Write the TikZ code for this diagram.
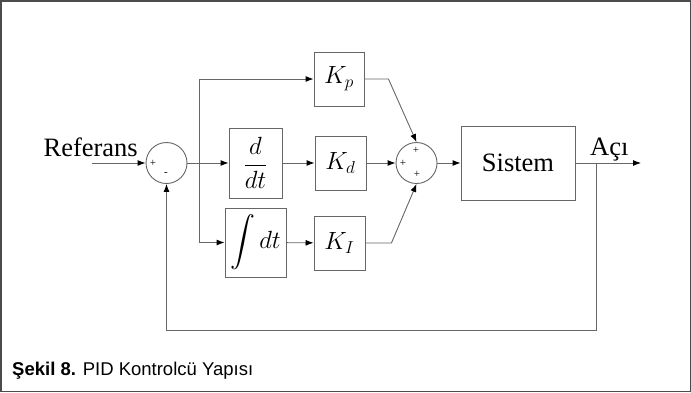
\documentclass[tikz,border=0pt]{standalone}
\usepackage{amsmath}
\usepackage{fontspec}
\setmainfont{Liberation Serif}
\newfontfamily\captionfont{Liberation Sans}
\usetikzlibrary{arrows.meta}

\tikzset{
	blok/.style={draw=black!60,line width=0.9pt,inner sep=0pt,font=\fontsize{24}{28}\selectfont},
	toplam/.style={draw=black!60,line width=0.9pt,circle,minimum size=41pt,inner sep=0pt},
	hat/.style={draw=black!60,line width=0.9pt},
	ok/.style={hat,-{Latex[black,length=8pt,width=6pt]}},
	isaret/.style={font=\fontsize{11}{11}\selectfont,inner sep=0pt},
}

\begin{document}
\begin{tikzpicture}[x=1pt,y=-1pt,font=\fontsize{26.5}{30}\selectfont]
	\draw[draw=black!70,line width=1.5pt] (0.75,0.75) rectangle (690.25,391.25);
	\node[toplam] (s1) at (166.5,163) {};
	\node[toplam] (s2) at (416.5,163) {};
	\node[isaret] (s1a) at (153,163) {+};
	\node[isaret] (s1b) at (166,174) {-};
	\node[isaret] (s2a) at (416,150) {+};
	\node[isaret] (s2b) at (403,163) {+};
	\node[isaret] (s2c) at (417,174) {+};
	\node[blok,minimum width=50pt,minimum height=54pt] (kp) at (339,79) {$K_p$};
	\node[blok,minimum width=53pt,minimum height=70pt] (ddt) at (255.5,163) {$\dfrac{d}{dt}$};
	\node[blok,minimum width=51pt,minimum height=54pt] (kd) at (340.5,163) {$K_d$};
	\node[blok,minimum width=61pt,minimum height=69pt] (int) at (255.5,242.5) {$\displaystyle\int dt$};
	\node[blok,minimum width=51pt,minimum height=54pt] (ki) at (339.5,243) {$K_I$};
	\node[blok,font=\fontsize{26.5}{30}\selectfont,minimum width=114pt,minimum height=74pt] (sis) at (518,163) {Sistem};
	\node[anchor=base east,inner sep=0pt] (ref) at (138,156) {Referans};
	\node[anchor=base west,inner sep=0pt] (aci) at (590,155) {Açı};
	\coordinate (giris) at (92,163);
	\coordinate (dal) at (199,163);
	\coordinate (geri) at (596,163);
	\coordinate (cikis) at (641,163);

	\draw[ok] (giris) -- (s1.west);
	\draw[ok] (s1.east) -- (ddt.west);
	\draw[ok] (dal) |- (kp.west);
	\draw[ok] (dal) |- (int.west);
	\draw[ok] (ddt) -- (kd);
	\draw[ok] (int) -- (ki);
	\draw[ok] (kd.east) -- (s2.west);
	\draw[ok] (kp.east) -- ++(24,0) -- (s2.north);
	\draw[ok] (ki.east) -- ++(26,0) -- (s2.south);
	\draw[ok] (s2) -- (sis);
	\draw[ok] (sis.east) -- (cikis);
	\draw[ok] (geri) -- ++(0,167) -| (s1.south);

	\node[anchor=base west,inner sep=0pt,font=\captionfont\fontsize{18.5}{20}\selectfont] (baslik) at (12,375) {\textbf{Şekil 8.} PID Kontrolcü Yapısı};
\end{tikzpicture}
\end{document}
